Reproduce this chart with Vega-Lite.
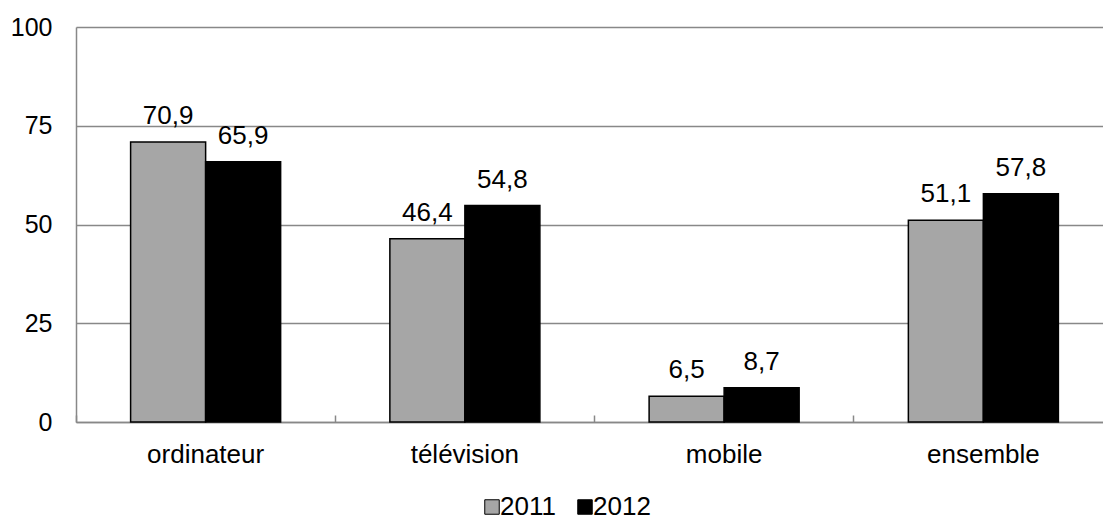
{
  "$schema": "https://vega.github.io/schema/vega-lite/v6.json",
  "width": 1027,
  "height": 395,
  "autosize": {"type": "none"},
  "padding": {"left": 76, "top": 27, "right": 0, "bottom": 97},
  "background": "white",
  "config": {
    "view": {"stroke": null},
    "font": "Liberation Sans",
    "text": {"font": "Liberation Sans"}
  },
  "data": {
    "values": [
      {"cat": "ordinateur", "year": "2011", "value": 70.9, "label": "70,9"},
      {"cat": "ordinateur", "year": "2012", "value": 65.9, "label": "65,9"},
      {"cat": "télévision", "year": "2011", "value": 46.4, "label": "46,4"},
      {"cat": "télévision", "year": "2012", "value": 54.8, "label": "54,8"},
      {"cat": "mobile", "year": "2011", "value": 6.5, "label": "6,5"},
      {"cat": "mobile", "year": "2012", "value": 8.7, "label": "8,7"},
      {"cat": "ensemble", "year": "2011", "value": 51.1, "label": "51,1"},
      {"cat": "ensemble", "year": "2012", "value": 57.8, "label": "57,8"}
    ]
  },
  "encoding": {
    "x": {
      "field": "cat",
      "type": "nominal",
      "sort": ["ordinateur", "télévision", "mobile", "ensemble"],
      "scale": {"range": [0, 1037], "paddingInner": 0, "paddingOuter": 0},
      "axis": {
        "title": null,
        "labelAngle": 0,
        "labelFontSize": 26,
        "labelColor": "black",
        "labelFont": "Liberation Sans",
        "labelBaseline": "alphabetic",
        "labelPadding": 47,
        "bandPosition": 0,
        "ticks": true,
        "tickSize": -7,
        "tickColor": "#888888",
        "tickWidth": 1.5,
        "domainColor": "#888888",
        "domainWidth": 1.5,
        "grid": false
      }
    },
    "xOffset": {
      "field": "year",
      "type": "nominal",
      "scale": {"paddingInner": 0, "paddingOuter": 0.728}
    },
    "y": {
      "field": "value",
      "type": "quantitative",
      "scale": {"domain": [0, 100], "nice": false, "zero": true},
      "axis": {
        "title": null,
        "values": [0, 25, 50, 75, 100],
        "labelFontSize": 25,
        "labelColor": "black",
        "labelFont": "Liberation Sans",
        "labelPadding": 24,
        "ticks": false,
        "tickSize": 0,
        "grid": true,
        "gridColor": "#888888",
        "gridWidth": 1.5,
        "domain": true,
        "domainColor": "#888888",
        "domainWidth": 1.5
      }
    }
  },
  "layer": [
    {
      "mark": {"type": "bar", "stroke": "black", "strokeWidth": 1.5},
      "encoding": {
        "color": {
          "field": "year",
          "type": "nominal",
          "scale": {"domain": ["2011", "2012"], "range": ["#a6a6a6", "#000000"]},
          "legend": {
            "title": null,
            "orient": "none",
            "direction": "horizontal",
            "legendX": 403,
            "legendY": 467,
            "symbolType": "square",
            "symbolSize": 210,
            "symbolStrokeColor": "black",
            "symbolStrokeWidth": 1,
            "labelFontSize": 26,
            "labelFont": "Liberation Sans",
            "labelColor": "black",
            "labelOffset": -5,
            "columnPadding": 16,
            "padding": 0
          }
        }
      }
    },
    {
      "mark": {"type": "text", "baseline": "alphabetic", "dy": -18, "fontSize": 26, "font": "Liberation Sans", "color": "black"},
      "encoding": {
        "text": {"field": "label"}
      }
    }
  ]
}
